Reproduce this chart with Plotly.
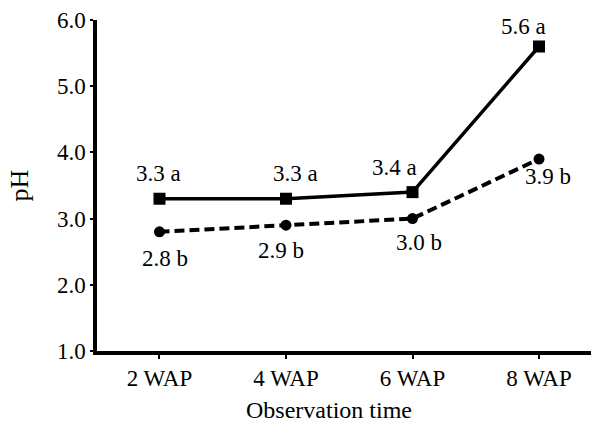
import plotly.graph_objects as go

categories = ["2 WAP", "4 WAP", "6 WAP", "8 WAP"]
ph_a = [3.3, 3.3, 3.4, 5.6]          # solid line, squares
ph_b = [2.8, 2.9, 3.0, 3.9]          # dashed line, circles
labels_a = ["3.3 a", "3.3 a", "3.4 a", "5.6 a"]
labels_b = ["2.8 b", "2.9 b", "3.0 b", "3.9 b"]
y_ticks = [1, 2, 3, 4, 5, 6]
x_title = "Observation time"
y_title = "pH"

# label pixel offsets (style)
off_a = [(-1, 25), (9, 25), (-18, 25), (-16, 20)]
off_b = [(6, -27), (-5, -25), (6, -24), (9, -17)]

FONT = "Liberation Serif"
FS = 23

fig = go.Figure()
fig.add_trace(go.Scatter(
    x=categories, y=ph_a, mode="lines+markers",
    line=dict(color="black", width=3.5),
    marker=dict(symbol="square", size=12, color="black"),
    showlegend=False, cliponaxis=False))
fig.add_trace(go.Scatter(
    x=categories, y=ph_b, mode="lines+markers",
    line=dict(color="black", width=4, dash="10px,5px"),
    marker=dict(symbol="circle", size=11, color="black"),
    showlegend=False, cliponaxis=False))

annotations = []
for c, v, t, (dx, dy) in zip(categories, ph_a, labels_a, off_a):
    annotations.append(dict(x=c, y=v, text=t, showarrow=False, xshift=dx, yshift=dy,
                            font=dict(family=FONT, size=FS, color="black")))
for c, v, t, (dx, dy) in zip(categories, ph_b, labels_b, off_b):
    annotations.append(dict(x=c, y=v, text=t, showarrow=False, xshift=dx, yshift=dy,
                            font=dict(family=FONT, size=FS, color="black")))
annotations.append(dict(text=x_title, xref="paper", yref="paper", x=0.469, y=-0.224,
                        xanchor="center", yanchor="bottom", showarrow=False,
                        font=dict(family=FONT, size=24, color="black")))

fig.update_layout(
    width=591, height=427,
    margin=dict(l=97, r=0, t=20, b=76),
    plot_bgcolor="white", paper_bgcolor="white",
    font=dict(family=FONT, size=FS, color="black"),
    annotations=annotations,
    xaxis=dict(
        type="category", range=[-0.494, 3.411],
        showline=True, linecolor="black", linewidth=3.5,
        ticks="outside", ticklen=4, tickwidth=2, tickcolor="black",
        showgrid=False, zeroline=False,
        tickfont=dict(family=FONT, size=FS),
    ),
    yaxis=dict(
        range=[1, 6], tickvals=y_ticks, tickformat=".1f",
        showline=True, linecolor="black", linewidth=3.5,
        ticks="outside", ticklen=3, tickwidth=2, tickcolor="black",
        showgrid=False, zeroline=False,
        title=dict(text=y_title, standoff=22, font=dict(size=26)),
        tickfont=dict(family=FONT, size=FS),
    ),
)

fig.write_html("out.html")
